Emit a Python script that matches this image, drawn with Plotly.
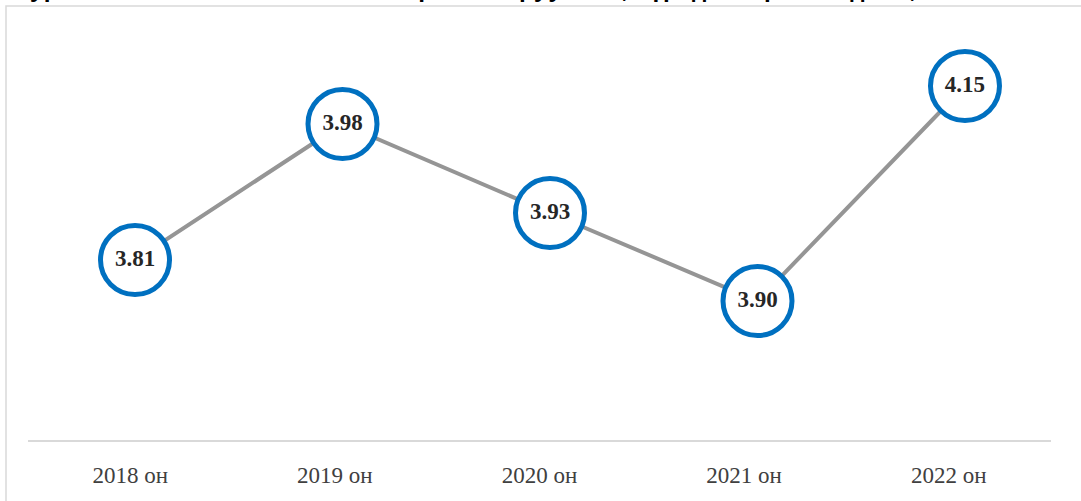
import plotly.graph_objects as go

# ---- data ----
years = ["2018 он", "2019 он", "2020 он", "2021 он", "2022 он"]
index_values = [3.81, 3.98, 3.93, 3.90, 4.15]          # data labels shown in circles
plotted_level = [1.80, 3.16, 2.27, 1.39, 3.54]          # vertical position of the points as drawn
title_text = "Зураг 31. Үйл ажиллагааны хөрөнгө оруулалт, үр дагаврын индекс, 2018-2022"

W, H = 1081, 501
ML, MR, MT, MB = 28, 30, 20, 61
plot_w = W - ML - MR
plot_h = H - MT - MB

fig = go.Figure()

# invisible trace that carries the category axis with the tick labels
fig.add_trace(go.Scatter(
    x=years, y=plotted_level, xaxis="x", yaxis="y",
    mode="markers", marker=dict(opacity=0), hoverinfo="skip", showlegend=False,
))

# visible line with circled data labels
fig.add_trace(go.Scatter(
    x=years, y=plotted_level, xaxis="x2", yaxis="y",
    mode="lines+markers+text",
    line=dict(color="#959595", width=4),
    marker=dict(size=69, color="white", line=dict(color="#0070C0", width=5)),
    text=[f"<b>{v:.2f}</b>" for v in index_values],
    textposition="middle center",
    textfont=dict(family="Liberation Serif", size=23, color="#262626"),
    hoverinfo="skip", showlegend=False, cliponaxis=False,
))

fig.update_layout(
    width=W, height=H,
    margin=dict(l=ML, r=MR, t=MT, b=MB),
    paper_bgcolor="white", plot_bgcolor="white",
    xaxis=dict(
        type="category", range=[-0.5, 4.5],
        showgrid=False, zeroline=False,
        showline=True, linecolor="#d9d9d9", linewidth=2,
        ticks="", ticklabelstandoff=13,
        tickfont=dict(family="Liberation Serif", size=23, color="#404040"),
    ),
    xaxis2=dict(
        type="category", overlaying="x", range=[-0.5157, 4.4145],
        visible=False, showgrid=False, zeroline=False,
    ),
    yaxis=dict(range=[0, 4.2], visible=False, showgrid=False, zeroline=False),
    shapes=[dict(
        type="rect", xref="paper", yref="paper", layer="below",
        x0=(6 - ML) / plot_w, x1=1.3, y0=-0.5, y1=(H - MB - 6) / plot_h,
        line=dict(color="#d9d9d9", width=1.5), fillcolor="rgba(0,0,0,0)",
    )],
    annotations=[dict(
        text=f"<b>{title_text}</b>", xref="paper", yref="paper",
        x=(540 - ML) / plot_w, y=(H - MB - 6) / plot_h,
        xanchor="center", yanchor="bottom", showarrow=False,
        font=dict(family="Liberation Mono", size=24, color="#000000"),
    )],
)

fig.write_html("out.html", config={"displayModeBar": False},
               post_script="document.body.style.margin='0';")
